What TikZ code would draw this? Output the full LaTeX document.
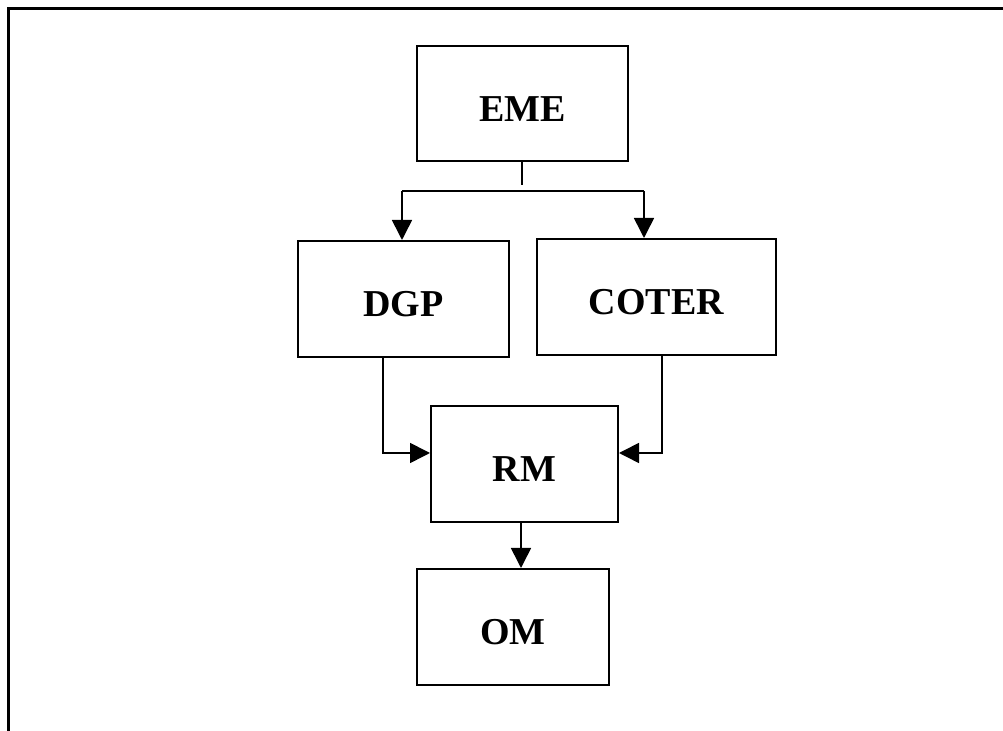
\documentclass[tikz,border=0pt]{standalone}
\usepackage{fontspec}
\setmainfont{Liberation Serif}
\usepackage{tikz}
\usetikzlibrary{arrows.meta,positioning}
\tikzset{>={Triangle[length=10pt,width=10pt]}}

\begin{document}
\begin{tikzpicture}[x=0.5pt,y=-0.5pt,
                          frame/.style={line width=1.5pt, black},
                          unit/.style={draw, line width=1pt, rectangle, inner sep=0pt,
                                       text height=18pt, text depth=0pt,
                                       font=\fontsize{19}{21}\selectfont\bfseries},
                          link/.style={line width=0.8pt, black},
                         ]

\useasboundingbox (0,0) rectangle (1003,731);

\draw[frame] (8,731) -- (8,9) -- (1003,9);

\node[unit, minimum width=105.5pt, minimum height=57.5pt] (eme) at (522.5,103.5) {EME};
\node[unit, minimum width=105.5pt, minimum height=58pt] (dgp) at (403.5,299) {DGP};
\node[unit, minimum width=119.5pt, minimum height=58pt] (coter) at (656.5,297) {COTER};
\node[unit, minimum width=93.5pt, minimum height=58pt] (rm) at (524.5,464) {RM};
\node[unit, minimum width=96pt, minimum height=58pt] (om) at (513,627) {OM};

\coordinate (stem) at (522,185);
\coordinate (splitL) at (402,191);
\coordinate (splitR) at (644,191);
\coordinate (inL) at (383,453);
\coordinate (inR) at (662,453);
\coordinate (down) at (521,500);

\draw[link] (eme.south -| stem) -- (stem);
\draw[link] (splitL) -- (splitR);
\draw[link, ->] (splitL) -- (splitL |- dgp.north);
\draw[link, ->] (splitR) -- (splitR |- coter.north);

\draw[link, ->] (dgp.south -| inL) -- (inL) -- (inL -| rm.west);
\draw[link, ->] (coter.south -| inR) -- (inR) -- (inR -| rm.east);

\draw[link, ->] (rm.south -| down) -- (om.north -| down);

\end{tikzpicture}
\end{document}
